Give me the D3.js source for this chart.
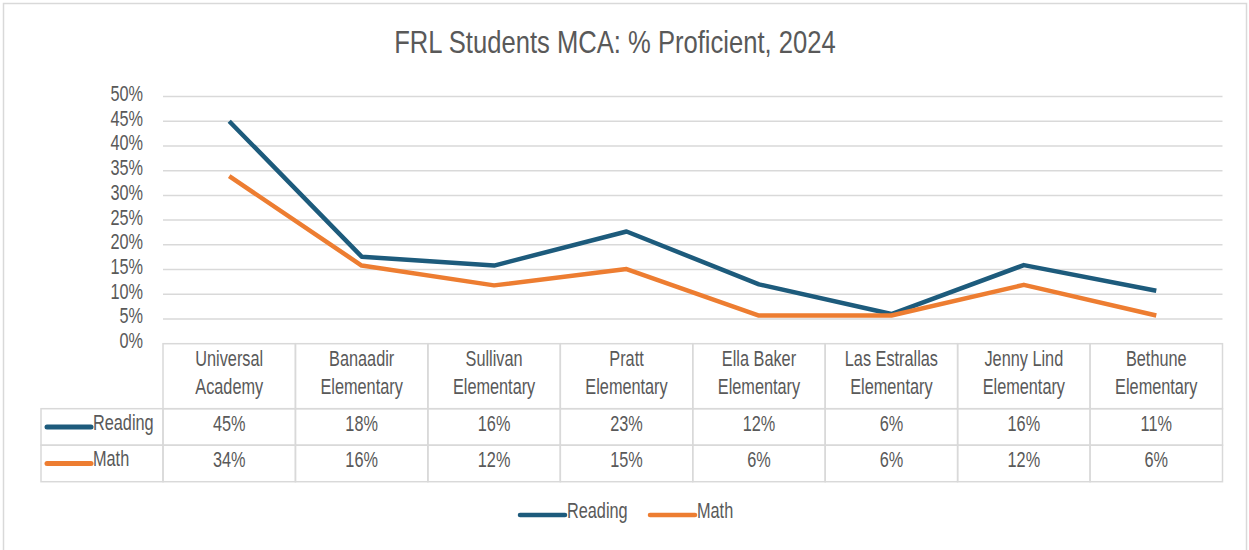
<!DOCTYPE html>
<html>
<head>
<meta charset="utf-8">
<style>
  body { margin: 0; background: #fff; }
  svg { display: block; font-family: "Liberation Sans", Arial, sans-serif; }
  .y .domain, .y .tick line { display: none; }
  .y .tick text { font-size: 22px; fill: #595959; }
  .grid line { stroke: #d9d9d9; stroke-width: 1.5; }
  .cell { stroke: #d9d9d9; stroke-width: 1.5; fill: none; }
  .lbl { font-size: 22px; fill: #595959; }
</style>
</head>
<body>
<svg width="1249" height="550"></svg>
<script src="https://d3js.org/d3.v7.min.js"></script>
<script>
// data
const schools = [
  ["Universal", "Academy"],
  ["Banaadir", "Elementary"],
  ["Sullivan", "Elementary"],
  ["Pratt", "Elementary"],
  ["Ella Baker", "Elementary"],
  ["Las Estrallas", "Elementary"],
  ["Jenny Lind", "Elementary"],
  ["Bethune", "Elementary"]
];
const reading = [45, 17.6, 15.8, 22.7, 12, 6, 15.9, 10.7];
const math = [33.9, 15.8, 11.8, 15.1, 5.7, 5.7, 11.9, 5.7];
const yTicks = [0, 5, 10, 15, 20, 25, 30, 35, 40, 45, 50];

const series = [
  { name: "Reading", values: reading, color: "#1d5b7c" },
  { name: "Math", values: math, color: "#ed7d31" }
];

const svg = d3.select("svg");

// outer frame
svg.append("rect")
  .attr("x", 3.5).attr("y", 3.5)
  .attr("width", 1243).attr("height", 560)
  .attr("fill", "none").attr("stroke", "#d9d9d9").attr("stroke-width", 1.5);

svg.append("text")
  .attr("class", "title")
  .attr("x", 615).attr("y", 53)
  .attr("text-anchor", "middle")
  .style("font-size", "32px").style("fill", "#595959")
  .text("FRL Students MCA: % Proficient, 2024");

let plotLeft = 163, plotRight = 1222.5;
let x = d3.scaleBand()
  .domain(d3.range(schools.length))
  .range([plotLeft, plotRight]);

let y = d3.scaleLinear()
  .domain([0, 50])
  .range([343.7, 96.5]);

// gridlines
svg.append("g").attr("class", "grid")
  .selectAll("line")
  .data(yTicks.filter(d => d > 0))
  .join("line")
  .attr("x1", plotLeft).attr("x2", plotRight)
  .attr("y1", d => y(d)).attr("y2", d => y(d));

let yAxis = svg.append("g")
  .attr("class", "y")
  .attr("transform", "translate(143,0)")
  .call(d3.axisLeft(y).tickValues(yTicks).tickSize(0).tickPadding(0).tickFormat(d => d + "%"));
yAxis.selectAll(".tick text").attr("dy", "0.18em");

// lines
let line = d3.line()
  .x((d, i) => x(i) + x.bandwidth() / 2)
  .y(d => y(d));

svg.append("g")
  .selectAll("path")
  .data(series)
  .join("path")
  .attr("d", d => line(d.values))
  .attr("fill", "none")
  .attr("stroke", d => d.color)
  .attr("stroke-width", 4.5)
  .attr("stroke-linejoin", "round");

// data table
let rowTop = 343.7, headH = 65, rowH = 36.5;
let table = svg.append("g");

table.selectAll(".head")
  .data(schools)
  .join("rect")
  .attr("class", "cell")
  .attr("x", (d, i) => x(i)).attr("y", rowTop)
  .attr("width", x.bandwidth()).attr("height", headH);

[0, 1].forEach(j => {
  table.selectAll(".h" + j)
    .data(schools)
    .join("text")
    .attr("class", "lbl")
    .attr("text-anchor", "middle")
    .attr("x", (d, i) => x(i) + x.bandwidth() / 2)
    .attr("y", rowTop + 22.5 + j * 28)
    .text(d => d[j]);
});

series.forEach((s, r) => {
  let top = rowTop + headH + r * rowH;
  table.append("rect")
    .attr("class", "cell")
    .attr("x", 41).attr("y", top)
    .attr("width", plotLeft - 41).attr("height", rowH);
  table.append("line")
    .attr("x1", 47).attr("x2", 91)
    .attr("y1", top + rowH / 2).attr("y2", top + rowH / 2)
    .attr("stroke", s.color).attr("stroke-width", 5)
    .attr("stroke-linecap", "round");
  table.append("text")
    .attr("class", "lbl")
    .attr("x", 93).attr("y", top + 21)
    .text(s.name);

  table.selectAll(".r" + r)
    .data(s.values)
    .join("rect")
    .attr("class", "cell")
    .attr("x", (d, i) => x(i)).attr("y", top)
    .attr("width", x.bandwidth()).attr("height", rowH);

  table.selectAll(".t" + r)
    .data(s.values)
    .join("text")
    .attr("class", "lbl")
    .attr("text-anchor", "middle")
    .attr("x", (d, i) => x(i) + x.bandwidth() / 2)
    .attr("y", top + 22)
    .text(d => Math.round(d) + "%");
});

// legend
let legend = svg.append("g")
  .selectAll("g")
  .data(series)
  .join("g")
  .attr("transform", (d, i) => `translate(${520 + i * 130},515)`);

legend.append("line")
  .attr("x1", 0).attr("x2", 45)
  .attr("stroke", d => d.color).attr("stroke-width", 4.5)
  .attr("stroke-linecap", "round");

legend.append("text")
  .attr("class", "lbl")
  .attr("x", 47).attr("y", 3)
  .text(d => d.name);

// the original uses a narrow face; squeeze the regular one horizontally
svg.selectAll("text").each(function () {
  let w = this.getComputedTextLength();
  let k = this.classList.contains("title") ? 0.8 : 0.74;
  d3.select(this)
    .attr("textLength", w * k)
    .attr("lengthAdjust", "spacingAndGlyphs");
});
</script>
</body>
</html>
